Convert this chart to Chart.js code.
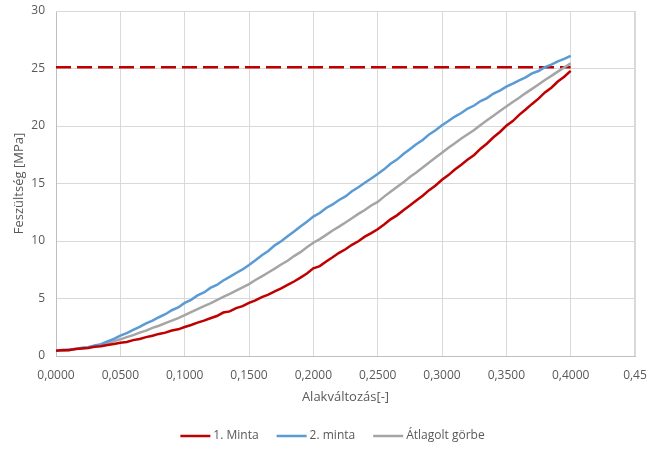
<!DOCTYPE html>
<html>
<head>
<meta charset="utf-8">
<script src="https://cdn.jsdelivr.net/npm/chart.js@4.4.1/dist/chart.umd.min.js"></script>
<style>
  html, body { margin: 0; padding: 0; background: #ffffff; }
  #wrap { width: 649px; height: 449px; position: relative; }
</style>
</head>
<body>
<div id="wrap"><canvas id="c" width="649" height="449"></canvas></div>
<script>
// Strain values (shared by all three curves), step 0.005
const strain = [];
for (let i = 0; i <= 80; i++) strain.push(+(i * 0.005).toFixed(3));

// Stress [MPa] – specimen 1
const minta1 = [
  0.45, 0.52, 0.50, 0.60, 0.66, 0.70, 0.80, 0.84, 0.96, 1.05,
  1.15, 1.22, 1.38, 1.48, 1.64, 1.76, 1.92, 2.03, 2.22, 2.32,
  2.52, 2.70, 2.90, 3.08, 3.28, 3.48, 3.78, 3.88, 4.17, 4.33,
  4.62, 4.83, 5.12, 5.33, 5.62, 5.88, 6.18, 6.48, 6.82, 7.18,
  7.62, 7.82, 8.22, 8.58, 8.97, 9.28, 9.67, 9.98, 10.38, 10.68,
  11.02, 11.43, 11.88, 12.23, 12.67, 13.08, 13.52, 13.93, 14.42, 14.83,
  15.32, 15.73, 16.22, 16.63, 17.08, 17.48, 18.03, 18.48, 19.02, 19.48,
  20.02, 20.43, 20.97, 21.43, 21.92, 22.38, 22.92, 23.33, 23.87, 24.28,
  24.80
];

// Stress [MPa] – specimen 2
const minta2 = [
  0.45, 0.50, 0.57, 0.60, 0.72, 0.76, 0.92, 1.03, 1.27, 1.48,
  1.77, 1.98, 2.27, 2.53, 2.83, 3.08, 3.37, 3.63, 3.98, 4.22,
  4.62, 4.88, 5.27, 5.53, 5.92, 6.18, 6.57, 6.88, 7.22, 7.53,
  7.92, 8.33, 8.77, 9.13, 9.62, 9.98, 10.42, 10.83, 11.27, 11.68,
  12.12, 12.43, 12.87, 13.18, 13.57, 13.88, 14.32, 14.68, 15.07, 15.43,
  15.82, 16.23, 16.72, 17.08, 17.57, 17.98, 18.42, 18.78, 19.27, 19.63,
  20.07, 20.43, 20.82, 21.13, 21.52, 21.78, 22.17, 22.43, 22.82, 23.08,
  23.42, 23.68, 23.97, 24.23, 24.57, 24.78, 25.12, 25.33, 25.62, 25.83,
  26.10
];

// Stress [MPa] – averaged curve
const atlag = [
  0.45, 0.51, 0.53, 0.61, 0.67, 0.75, 0.84, 0.96, 1.10, 1.29,
  1.45, 1.64, 1.82, 2.03, 2.21, 2.45, 2.63, 2.86, 3.08, 3.30,
  3.55, 3.82, 4.07, 4.34, 4.58, 4.86, 5.15, 5.41, 5.68, 5.96,
  6.25, 6.61, 6.93, 7.26, 7.60, 7.96, 8.28, 8.69, 9.03, 9.46,
  9.85, 10.16, 10.53, 10.91, 11.25, 11.61, 11.98, 12.36, 12.70, 13.09,
  13.40, 13.86, 14.28, 14.69, 15.10, 15.56, 15.95, 16.39, 16.82, 17.26,
  17.68, 18.11, 18.50, 18.91, 19.28, 19.66, 20.08, 20.49, 20.90, 21.31,
  21.70, 22.09, 22.45, 22.86, 23.23, 23.61, 24.00, 24.36, 24.73, 25.09,
  25.45
];

// Horizontal reference level (dashed)
const refLevel = 25.1;
const refRange = [0, 0.4];

const xTicks = [0, 0.05, 0.1, 0.15, 0.2, 0.25, 0.3, 0.35, 0.4, 0.45];
const yTicks = [0, 5, 10, 15, 20, 25, 30];

const toXY = (ys) => ys.map((y, i) => ({ x: strain[i], y: y }));
const fmtX = (v) => {
  if (Math.abs(v - 0.45) < 1e-9) return '0,45';
  return v.toFixed(4).replace('.', ',');
};

const FONT = "'Open Sans', 'Noto Sans', sans-serif";
const TXT = '#595959';
const GRID = '#d9d9d9';

// Legend drawn below the axis title: short line + label per series
const lineLegend = {
  id: 'lineLegend',
  afterDraw(chart) {
    const ctx = chart.ctx;
    const items = chart.data.datasets.filter(d => d.label !== 'ref');
    const lineW = 30, gap = 3, spacing = 18, y = 436;
    ctx.save();
    ctx.font = '12px ' + FONT;
    ctx.textBaseline = 'middle';
    const widths = items.map(d => ctx.measureText(d.label).width);
    const total = widths.reduce((s, w) => s + lineW + gap + w, 0) + spacing * (items.length - 1);
    let x = chart.width / 2 + 8 - total / 2;
    items.forEach((d, i) => {
      ctx.strokeStyle = d.borderColor;
      ctx.lineWidth = 2.5;
      ctx.beginPath();
      ctx.moveTo(x, y); ctx.lineTo(x + lineW, y);
      ctx.stroke();
      x += lineW + gap;
      ctx.fillStyle = TXT;
      ctx.fillText(d.label, x, y);
      x += widths[i] + spacing;
    });
    ctx.restore();
  }
};

// Top and right border of the plot area
const frame = {
  id: 'frame',
  beforeDatasetsDraw(chart) {
    const a = chart.chartArea, ctx = chart.ctx;
    ctx.save();
    ctx.strokeStyle = GRID;
    ctx.lineWidth = 1;
    ctx.beginPath();
    ctx.moveTo(a.left, a.top + 0.5); ctx.lineTo(a.right, a.top + 0.5);
    ctx.moveTo(a.right - 0.5, a.top); ctx.lineTo(a.right - 0.5, a.bottom);
    ctx.stroke();
    ctx.restore();
  }
};

new Chart(document.getElementById('c'), {
  type: 'line',
  data: {
    datasets: [
      { label: '1. Minta', data: toXY(minta1), borderColor: '#c00000', borderWidth: 2.5, pointRadius: 0, tension: 0 },
      { label: '2. minta', data: toXY(minta2), borderColor: '#5b9bd5', borderWidth: 2.5, pointRadius: 0, tension: 0 },
      { label: 'Átlagolt görbe', data: toXY(atlag), borderColor: '#a5a5a5', borderWidth: 2.5, pointRadius: 0, tension: 0 },
      { label: 'ref', data: refRange.map(x => ({ x: x, y: refLevel })), borderColor: '#c00000', borderWidth: 2.5,
        borderDash: [15, 6], pointRadius: 0, tension: 0 }
    ]
  },
  options: {
    responsive: false,
    animation: false,
    events: [],
    layout: { padding: { left: 0, right: 14, top: 11, bottom: 30 } },
    plugins: {
      tooltip: { enabled: false },
      legend: { display: false }
    },
    scales: {
      x: {
        type: 'linear',
        min: 0, max: 0.45,
        afterBuildTicks: (s) => { s.ticks = xTicks.map(v => ({ value: v })); },
        afterFit: (s) => { s.height = 63; s.paddingLeft = 0; s.paddingRight = 0; },
        ticks: { callback: fmtX, color: TXT, font: { family: FONT, size: 12 }, maxRotation: 0, padding: 12 },
        grid: { color: GRID, lineWidth: 1, drawTicks: false },
        border: { color: '#bfbfbf' },
        title: { display: true, text: 'Alakváltozás[-]', color: TXT, font: { family: FONT, size: 13 }, padding: { top: 14, bottom: 14 } }
      },
      y: {
        min: 0, max: 30,
        afterBuildTicks: (s) => { s.ticks = yTicks.map(v => ({ value: v })); },
        afterFit: (s) => { s.width = 56; s.paddingTop = 0; s.paddingBottom = 0; },
        ticks: { color: TXT, font: { family: FONT, size: 12 }, padding: 11 },
        grid: { color: GRID, lineWidth: 1, drawTicks: false },
        border: { color: '#bfbfbf' },
        title: { display: true, text: 'Feszültség [MPa]', color: TXT, font: { family: FONT, size: 13 }, padding: { top: 11, bottom: 11 } }
      }
    }
  },
  plugins: [frame, lineLegend]
});
</script>
</body>
</html>
